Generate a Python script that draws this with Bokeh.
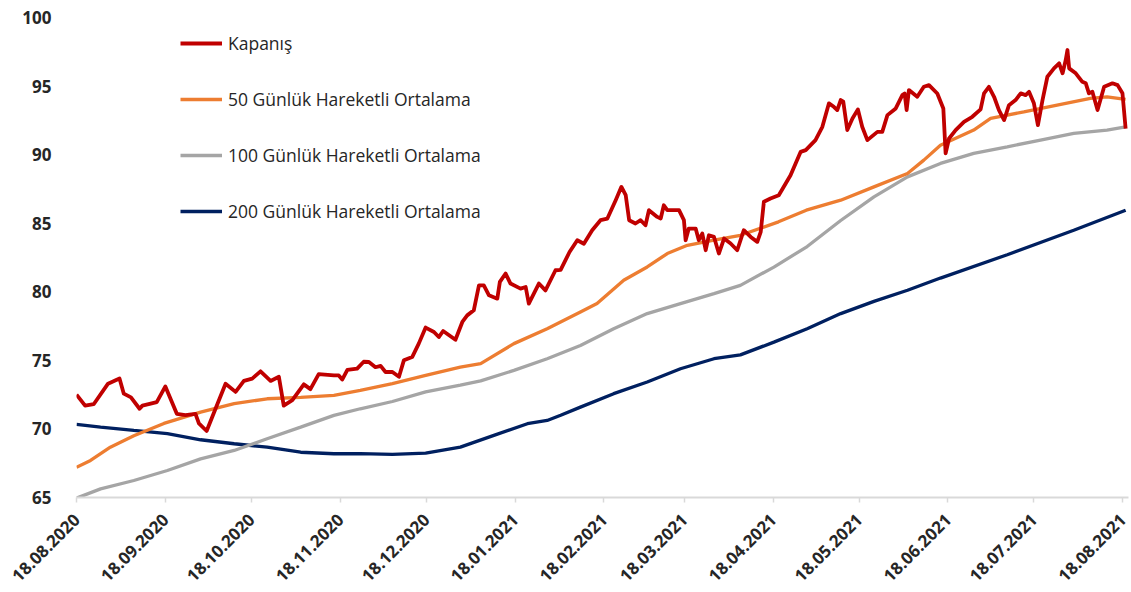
import pandas as pd
from math import pi
from bokeh.plotting import figure
from bokeh.models import Range1d, FixedTicker, Legend, LegendItem
from bokeh.embed import file_html
from bokeh.resources import INLINE

# ---- data (days since 18.08.2020, values) ----
start_date = "2020-08-18"

close_days = [0, 3, 6, 11, 15, 16.5, 19, 22, 23, 28, 31, 35, 38, 41.5, 42.7, 45.4, 48.5, 52, 55.5, 58.4,
              61.3, 64.2, 67.7, 70.6, 72.3, 75.3, 79.3, 81.6, 84.5, 89.8, 91.5, 92.7, 94.5, 97.9, 100.2, 102,
              104.3, 106.1, 107.8, 110.2, 112.5, 114.2, 117.1, 119.4, 121.8, 124.7, 126.4, 127.9, 132.2, 134.6,
              136.3, 138.6, 140.4, 142.1, 143.9, 146.8, 147.7, 149.7, 151.4, 154.9, 156.7, 157.8, 161.3, 163.6,
              167.1, 168.9, 172, 174.7, 177, 179.9, 182.8, 185.2, 188.1, 190.1, 191.6, 192.8, 195, 196.8, 198.5,
              199.7, 202.6, 203.8, 204.9, 206.1, 210.2, 211.9, 212.5, 213.6, 216, 217.1, 218.3, 219.5, 220.6,
              222.4, 224.1, 225.9, 228.2, 230.5, 232.8, 235.2, 237.5, 238.7, 239.8, 242.1, 245, 249.1, 252.6,
              254.4, 257.8, 260.2, 262.5, 264.2, 265.4, 266.6, 267.5, 268.9, 270.7, 272.6, 274.1, 275.9, 279.4,
              281.1, 282.9, 285.8, 288.1, 288.9, 289.6, 290.4, 293.3, 295.6, 297.4, 300.3, 302.4, 303.2, 304.4,
              306.7, 309.6, 312.5, 315.4, 316.6, 318.3, 320.1, 321.8, 323.6, 325.3, 327.6, 329.4, 331.1, 332.3,
              334, 335.4, 337, 338.7, 341, 342.8, 344, 345.1, 345.7, 346.3, 348.6, 350.9, 352.1, 353.2, 354.4,
              356.2, 358.5, 361.4, 363.2, 364.9, 366]
close_vals = [72.5, 71.7, 71.8, 73.3, 73.67, 72.57, 72.3, 71.47, 71.7, 71.95, 73.1, 71.1, 71.0, 71.1, 70.4, 69.85,
              71.47, 73.3, 72.7, 73.5, 73.67, 74.2, 73.5, 73.8, 71.7, 72.1, 73.25, 72.9, 74.0, 73.9, 73.9, 73.6,
              74.3, 74.4, 74.9, 74.88, 74.5, 74.6, 74.15, 74.15, 73.8, 75.0, 75.24, 76.22, 77.39, 77.07, 76.7,
              77.14, 76.5, 77.8, 78.28, 78.65, 80.47, 80.47, 79.74, 79.5, 80.72, 81.33, 80.6, 80.23, 80.35, 79.14,
              80.6, 80.1, 81.57, 81.6, 82.9, 83.76, 83.5, 84.49, 85.22, 85.34, 86.68, 87.65, 87.04, 85.22, 84.98,
              85.22, 84.85, 85.95, 85.46, 85.34, 86.31, 85.95, 85.95, 85.22, 83.76, 84.61, 84.61, 83.76, 84.25,
              83.03, 84.12, 84.0, 82.79, 83.88, 83.52, 83.03, 84.49, 84.0, 83.64, 84.37, 86.56, 86.8, 87.04, 88.5,
              90.2, 90.33, 91.06, 92.03, 93.74, 93.49, 93.25, 93.98, 93.86, 91.79, 92.64, 93.3, 92.03, 91.06,
              91.66, 91.66, 92.88, 93.37, 94.34, 94.46, 93.25, 94.71, 94.22, 94.95, 95.07, 94.46, 93.37, 90.09,
              91.18, 91.79, 92.39, 92.76, 93.3, 94.47, 94.95, 94.22, 93.25, 92.52, 93.61, 93.98, 94.47, 94.34,
              94.58, 93.74, 92.15, 93.98, 95.68, 96.29, 96.66, 95.93, 96.9, 97.63, 96.29, 95.93, 95.31, 95.2,
              94.47, 94.58, 93.25, 94.95, 95.2, 95.07, 94.47, 91.9]

ma50_days = [0, 4.9, 11.8, 20, 30.5, 43.3, 55, 66.5, 78.2, 89.8, 99, 110.2, 121.8, 133.9, 141, 152.6, 164.2,
             175.8, 181.6, 190.9, 199.1, 206.1, 213.1, 222.4, 231.6, 244.9, 254.6, 266.6, 278.2, 289.9, 295.6,
             301.4, 313, 318.9, 330.5, 342.1, 353.7, 359.5, 366]
ma50_vals = [67.2, 67.7, 68.67, 69.5, 70.4, 71.23, 71.84, 72.2, 72.3, 72.45, 72.81, 73.3, 73.9, 74.5, 74.76,
             76.22, 77.31, 78.53, 79.14, 80.84, 81.81, 82.79, 83.39, 83.76, 84.12, 85.1, 85.95, 86.68, 87.65,
             88.63, 89.6, 90.69, 91.79, 92.64, 93.12, 93.61, 94.1, 94.22, 94.03]

ma100_days = [0, 8.4, 20, 31.7, 43.3, 55, 66.5, 78.2, 89.8, 99, 110.2, 121.8, 133.9, 141, 152.6, 164.2, 175.8,
              187.4, 199.1, 210.7, 222.4, 231.6, 243.3, 254.9, 266.6, 278.2, 289.9, 301.4, 313, 324.7, 336.3,
              347.9, 359.5, 366]
ma100_vals = [64.95, 65.63, 66.24, 66.97, 67.82, 68.43, 69.28, 70.13, 70.99, 71.47, 72.0, 72.7, 73.2, 73.5,
              74.27, 75.12, 76.09, 77.31, 78.41, 79.14, 79.87, 80.47, 81.8, 83.3, 85.2, 86.92, 88.38, 89.36,
              90.09, 90.57, 91.06, 91.55, 91.79, 92.03]

ma200_days = [0, 8.4, 20, 31.7, 43.3, 55, 66.5, 78.2, 89.8, 99, 110.2, 121.8, 133.9, 145.6, 157.3, 164.2,
              168.9, 175.8, 187.4, 199.1, 210.7, 222.4, 231.6, 243.3, 254.9, 266.6, 278.2, 289.9, 301.4, 324.7,
              347.9, 366]
ma200_vals = [70.33, 70.13, 69.89, 69.65, 69.21, 68.92, 68.67, 68.3, 68.19, 68.2, 68.14, 68.23, 68.67, 69.53,
              70.38, 70.62, 71.0, 71.59, 72.57, 73.42, 74.39, 75.12, 75.4, 76.33, 77.31, 78.41, 79.3, 80.11,
              81.0, 82.7, 84.49, 85.95]

tick_dates = ["2020-08-18", "2020-09-18", "2020-10-18", "2020-11-18", "2020-12-18", "2021-01-18",
              "2021-02-18", "2021-03-18", "2021-04-18", "2021-05-18", "2021-06-18", "2021-07-18",
              "2021-08-18"]
tick_labels = ["18.08.2020", "18.09.2020", "18.10.2020", "18.11.2020", "18.12.2020", "18.01.2021",
               "18.02.2021", "18.03.2021", "18.04.2021", "18.05.2021", "18.06.2021", "18.07.2021",
               "18.08.2021"]
y_ticks = [65, 70, 75, 80, 85, 90, 95, 100]

series_names = ["Kapanış", "50 Günlük Hareketli Ortalama", "100 Günlük Hareketli Ortalama",
                "200 Günlük Hareketli Ortalama"]
series_colors = ["#C00000", "#ED7D31", "#A5A5A5", "#002060"]

# ---- build ----
t0 = pd.Timestamp(start_date)


def to_dates(days):
    return [t0 + pd.Timedelta(days=d) for d in days]


Y_MIN, Y_MAX = y_ticks[0], y_ticks[-1]

p = figure(width=1130, height=591, x_axis_type="datetime", output_backend="svg",
           toolbar_location=None, min_border_left=76, min_border_right=2,
           min_border_top=17, min_border_bottom=94,
           x_range=Range1d(t0, t0 + pd.Timedelta(days=367)),
           y_range=Range1d(Y_MIN, Y_MAX))
p.outline_line_color = None
p.xgrid.visible = False
p.ygrid.visible = False
p.background_fill_color = "white"
p.border_fill_color = "white"

r200 = p.line(to_dates(ma200_days), ma200_vals, line_color=series_colors[3], line_width=3.3)
r100 = p.line(to_dates(ma100_days), ma100_vals, line_color=series_colors[2], line_width=3.3)
r50 = p.line(to_dates(ma50_days), ma50_vals, line_color=series_colors[1], line_width=3.3)
rc = p.line(to_dates(close_days), close_vals, line_color=series_colors[0], line_width=3.8,
            line_join="round")

tick_ms = [pd.Timestamp(d).value // 10**6 for d in tick_dates]
xa = p.xaxis[0]
xa.ticker = FixedTicker(ticks=tick_ms)
xa.major_label_overrides = dict(zip(tick_ms, tick_labels))
xa.major_label_orientation = pi / 4
xa.axis_line_color = "#D9D9D9"
xa.axis_line_width = 2
xa.major_tick_line_color = "#D9D9D9"
xa.major_tick_line_width = 1.5
xa.major_tick_in = 0
xa.major_tick_out = 5
xa.minor_tick_line_color = None
xa.major_label_text_font = "Open Sans"
xa.major_label_text_font_style = "bold"
xa.major_label_text_font_size = "17px"
xa.major_label_text_color = "#262626"
xa.major_label_standoff = 14

ya = p.yaxis[0]
ya.ticker = FixedTicker(ticks=y_ticks)
ya.axis_line_color = None
ya.major_tick_line_color = None
ya.minor_tick_line_color = None
ya.major_label_text_font = "Open Sans"
ya.major_label_text_font_style = "bold"
ya.major_label_text_font_size = "17px"
ya.major_label_text_color = "#262626"
ya.major_label_standoff = 19

legend = Legend(items=[LegendItem(label=series_names[0], renderers=[rc]),
                       LegendItem(label=series_names[1], renderers=[r50]),
                       LegendItem(label=series_names[2], renderers=[r100]),
                       LegendItem(label=series_names[3], renderers=[r200])],
                location=(104, 274), orientation="vertical",
                glyph_width=42, glyph_height=24, label_height=24, spacing=32,
                label_standoff=6, padding=0, margin=0,
                border_line_color=None, background_fill_alpha=0,
                label_text_font="Open Sans", label_text_font_size="17.5px",
                label_text_color="#262626")
p.add_layout(legend, "center")

open("out.html", "w").write(file_html(p, INLINE))
